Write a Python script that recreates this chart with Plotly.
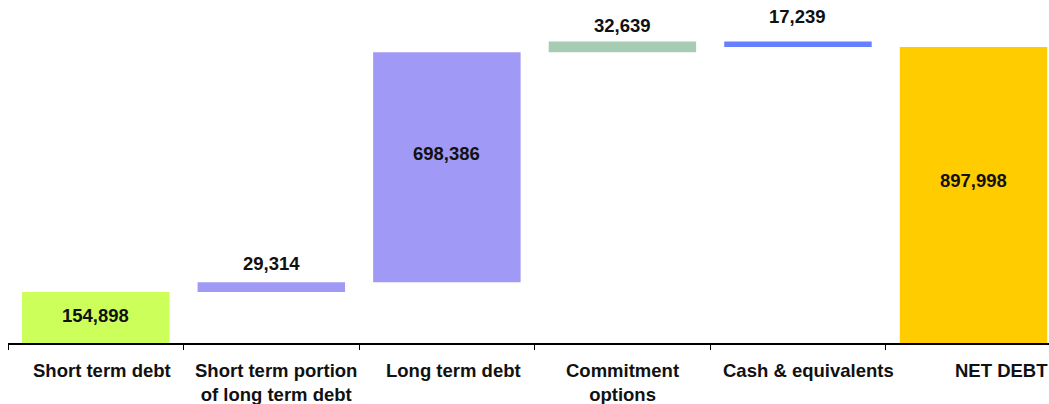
import plotly.graph_objects as go

categories = ["Short term debt", "Short term portion<br>of long term debt", "Long term debt",
              "Commitment<br>options", "Cash & equivalents", "NET DEBT"]
changes = [154898, 29314, 698386, 32639, -17239]
net_debt = 897998
colors = ["#CCFF5A", "#A099F5", "#A099F5", "#A6CDB3", "#6680FF", "#FFCC00"]
label_inside = [True, False, True, False, False, True]
label_yshift = [2, 6, 14, 3, 12, 15]
cat_xshift = [6, 5, 7, 0, 11, 28]

# bar geometry from the data
bases, heights, tops = [], [], []
run = 0
for v in changes:
    lo = min(run, run + v)
    hi = max(run, run + v)
    bases.append(lo)
    heights.append(hi - lo)
    tops.append(hi)
    run += v
bases.append(0)
heights.append(net_debt)
tops.append(net_debt)
labels = [f"{abs(v):,}" for v in changes] + [f"{net_debt:,}"]

fig = go.Figure()
fig.add_trace(go.Bar(
    x=list(range(len(categories))), y=heights, base=bases,
    marker=dict(color=colors, line=dict(width=0)),
    width=0.84, hoverinfo="skip",
))

font_bold = dict(family="Liberation Sans, Arial, sans-serif", size=18.5, color="#111111")
anns = []
for i, lab in enumerate(labels):
    if label_inside[i]:
        anns.append(dict(x=i, y=bases[i] + heights[i] / 2, text=f"<b>{lab}</b>", showarrow=False,
                         xref="x", yref="y", yanchor="middle", yshift=label_yshift[i], font=font_bold))
    else:
        anns.append(dict(x=i, y=tops[i], text=f"<b>{lab}</b>", showarrow=False,
                         xref="x", yref="y", yanchor="bottom", yshift=label_yshift[i], font=font_bold))
for i, c in enumerate(categories):
    anns.append(dict(x=i, y=0, text=f"<b>{c}</b>", showarrow=False, xref="x", yref="paper",
                     yanchor="top", yshift=-15, xshift=cat_xshift[i], font=font_bold, align="center"))

fig.update_layout(
    width=1049, height=404,
    margin=dict(l=8, r=0, t=8, b=61),
    paper_bgcolor="white", plot_bgcolor="white",
    showlegend=False,
    annotations=anns,
    xaxis=dict(type="linear", range=[-0.5, 5.43], showgrid=False, zeroline=False,
               showline=True, linecolor="#000000", linewidth=1.5,
               tickmode="array", tickvals=[k - 0.5 for k in range(len(categories))],
               ticktext=["" for _ in categories],
               ticks="outside", ticklen=5, tickcolor="#000000", tickwidth=1),
    yaxis=dict(range=[0, 1016700], visible=False, showgrid=False, zeroline=False),
)

fig.write_html(
    "out.html",
    config={"displayModeBar": False},
    post_script="document.body.style.margin='0';document.body.style.overflow='hidden';",
)
